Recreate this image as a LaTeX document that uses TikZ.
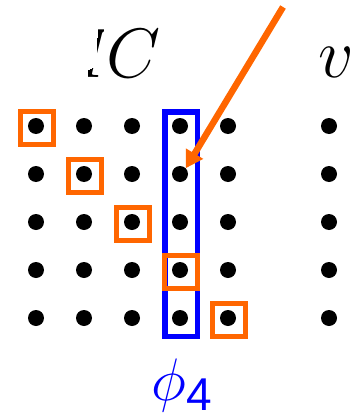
\RequirePackage{fix-cm}
\documentclass[tikz,border=0pt]{standalone}
\usepackage{fontspec}
\newfontfamily\arialfont{Liberation Sans}
\usetikzlibrary{arrows.meta}
\definecolor{myorange}{HTML}{FF6600}
\definecolor{myblue}{HTML}{0000FF}
\begin{document}
\begin{tikzpicture}[x=1pt,y=-1pt,
  dot/.style={circle,fill=black,inner sep=0pt,minimum size=16pt},
  selbox/.style={draw=myorange,line width=5pt,inner sep=0pt,minimum size=33pt},
  bigtext/.style={inner sep=0pt,anchor=base,font=\fontsize{70}{70}\selectfont}]
\useasboundingbox (0,0) rectangle (360,415);
% dots
\foreach \r/\y in {1/126,2/174,3/222,4/270,5/318}{
  \foreach \c/\x in {1/36,2/84,3/132,4/180,5/228,6/329}{
    \node[dot] (d\r\c) at (\x,\y) {};
  }
}
% column box
\node[draw=myblue,line width=5.5pt,inner sep=0pt,minimum width=32.5pt,minimum height=224.5pt] (col) at (181,224) {};
% selected entries
\node[selbox] (s1) at (37,128) {};
\node[selbox] (s2) at (85,176) {};
\node[selbox] (s3) at (133,224) {};
\node[selbox] (s4) at (180.5,272) {};
\node[selbox] (s5) at (229,320) {};
% labels
\begin{scope}
  \clip (98,20) -- (104,20) -- (103,85) -- (88,85) -- (88,70) -- (96,66) -- cycle;
  \node[bigtext,anchor=base east] (frag) at (112,77) {$I$};
\end{scope}
\node[bigtext] (C) at (134,77) {$C$};
\node[bigtext] (v) at (336,77) {$v$};
\node[inner sep=0pt,anchor=base,text=myblue] (phi) at (182,400)
  {\fontsize{60}{60}\selectfont$\phi$\raisebox{-10pt}{\fontsize{46}{46}\selectfont\arialfont 4}};
% arrow
\coordinate (start) at (283,7);
\draw[myorange,line width=6.5pt,-{Triangle[length=17pt,width=19pt]}] (start) -- (d24.45);
\end{tikzpicture}
\end{document}
